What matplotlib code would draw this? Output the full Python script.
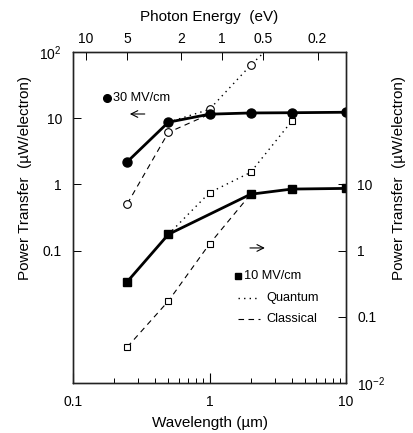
import matplotlib
matplotlib.use("Agg")
import matplotlib.pyplot as plt
from matplotlib.lines import Line2D
from matplotlib.ticker import FixedLocator, NullLocator, LogLocator, NullFormatter

plt.rcParams['font.family'] = ['Liberation Sans', 'DejaVu Sans']
plt.rcParams['mathtext.fontset'] = 'custom'
plt.rcParams['mathtext.rm'] = 'Liberation Sans'

# ---------------- data ----------------
# 30 MV/cm (left axis, uW/electron)
wl30 = [0.25, 0.5, 1, 2, 4, 10]
p30 = [2.2, 8.7, 11.5, 12.0, 12.1, 12.3]
wl30_q = [0.5, 1, 2, 4]
p30_q = [8.7, 13.6, 63, 250]
wl30_c = [0.25, 0.5, 1]
p30_c = [0.51, 6.1, 11.5]

# 10 MV/cm (right axis, uW/electron)
wl10 = [0.25, 0.5, 2, 4, 10]
p10 = [0.34, 1.76, 7.1, 8.5, 8.7]
wl10_q = [0.5, 1, 2, 4]
p10_q = [1.76, 7.5, 15.2, 90]
wl10_c = [0.25, 0.5, 1, 2]
p10_c = [0.035, 0.173, 1.26, 7.1]

energy_ticks = [10, 5, 2, 1, 0.5, 0.2]
energy_labels = ["10", "5", "2", "1", "0.5", "0.2"]
left_ticks = [100, 10, 1, 0.1]
left_labels = ["10$^2$", "10", "1", "0.1"]
right_ticks = [10, 1, 0.1, 0.01]
right_labels = ["10", "1", "0.1", "10$^{-2}$"]
x_ticks = [0.1, 1, 10]
x_labels = ["0.1", "1", "10"]

# ---------------- figure ----------------
fig = plt.figure(figsize=(4.13, 4.33), dpi=100)
ax = fig.add_axes([73/413, 50/433, 273/413, 331/433])
ax2 = ax.twinx()
ax3 = ax.twiny()

for a in (ax, ax2, ax3):
    for s in a.spines.values():
        s.set_linewidth(0.9)
        s.set_color('#222222')

ax.set_xscale('log')
ax.set_yscale('log')
ax.set_xlim(0.1, 10)
ax.set_ylim(1e-3, 1e2)
ax2.set_yscale('log')
ax2.set_ylim(1e-2, 1e3)

fs_tick = 10
fs_lab = 11

# bottom axis
ax.xaxis.set_major_locator(FixedLocator(x_ticks))
ax.set_xticklabels(x_labels)
ax.xaxis.set_minor_locator(LogLocator(base=10, subs=range(2, 10)))
ax.xaxis.set_minor_formatter(NullFormatter())
ax.tick_params(axis='x', which='major', direction='in', length=7, width=0.8,
               labelsize=fs_tick, pad=9)
ax.tick_params(axis='x', which='minor', direction='in', length=3.5, width=0.7)

# left axis
ax.yaxis.set_major_locator(FixedLocator(left_ticks))
ax.set_yticklabels(left_labels)
ax.yaxis.set_minor_locator(NullLocator())
ax.tick_params(axis='y', which='major', direction='in', length=6, width=0.7,
               labelsize=fs_tick, pad=8)

# right axis
ax2.yaxis.set_major_locator(FixedLocator(right_ticks))
ax2.set_yticklabels(right_labels)
ax2.yaxis.set_minor_locator(NullLocator())
ax2.tick_params(axis='y', which='major', direction='in', length=6, width=0.7,
                labelsize=fs_tick, pad=8)

# top axis (photon energy)
ax3.set_xscale('log')
ax3.set_xlim(0.1, 10)
ax3.xaxis.set_major_locator(FixedLocator([1.24 / e for e in energy_ticks]))
ax3.set_xticklabels(energy_labels)
ax3.xaxis.set_minor_locator(NullLocator())
ax3.tick_params(axis='x', which='major', direction='in', length=6, width=0.7,
                labelsize=fs_tick, pad=4)

ax.set_xlabel("Wavelength (\u00b5m)", fontsize=fs_lab, labelpad=5)
ax3.set_xlabel("Photon Energy  (eV)", fontsize=fs_lab, labelpad=8)
ax.set_ylabel("Power Transfer  (\u00b5W/electron)", fontsize=fs_lab)
ax.yaxis.set_label_coords(-0.15, 0.62)
ax2.set_ylabel("Power Transfer  (\u00b5W/electron)", fontsize=fs_lab, rotation=90)
ax2.yaxis.set_label_coords(1.17, 0.62)

# ---------------- curves ----------------
k = 'black'
# 30 MV/cm
ax.plot(wl30_q, p30_q, linestyle=(0, (1, 3)), color=k, lw=1.0)
ax.plot(wl30_q[1:], p30_q[1:], linestyle='none', marker='o', ms=5.5,
        mfc='white', mec=k, mew=0.8)
ax.plot(wl30_c, p30_c, linestyle=(0, (5, 4)), color=k, lw=0.8)
ax.plot(wl30_c[:-1], p30_c[:-1], linestyle='none', marker='o', ms=5.5,
        mfc='white', mec=k, mew=0.8)
ax.plot(wl30, p30, color=k, lw=2.0, marker='o', ms=6.5, mfc=k, mec=k, zorder=5)

# 10 MV/cm
ax2.plot(wl10_q, p10_q, linestyle=(0, (1, 3)), color=k, lw=1.0)
ax2.plot(wl10_q[1:], p10_q[1:], linestyle='none', marker='s', ms=5,
         mfc='white', mec=k, mew=0.8)
ax2.plot(wl10_c, p10_c, linestyle=(0, (5, 4)), color=k, lw=0.8)
ax2.plot(wl10_c[:-1], p10_c[:-1], linestyle='none', marker='s', ms=5,
         mfc='white', mec=k, mew=0.8)
ax2.plot(wl10, p10, color=k, lw=2.0, marker='s', ms=6, mfc=k, mec=k, zorder=5)

# ---------------- annotations ----------------
T = ax.transAxes
fs_ann = 9.2
ax.add_line(Line2D([0.123], [0.862], transform=T, marker='o', ms=5.5,
                   color=k, linestyle='none'))
ax.text(0.145, 0.862, "30 MV/cm", transform=T, fontsize=fs_ann, va='center')
ax.annotate("", xy=(0.198, 0.8127), xytext=(0.273, 0.8127),
            xycoords=T, textcoords=T,
            arrowprops=dict(arrowstyle='->', lw=0.8, color=k,
                            mutation_scale=12))
ax.annotate("", xy=(0.713, 0.408), xytext=(0.638, 0.408),
            xycoords=T, textcoords=T,
            arrowprops=dict(arrowstyle='->', lw=0.8, color=k,
                            mutation_scale=12))

ax.add_line(Line2D([0.606], [0.3233], transform=T, marker='s', ms=4.5,
                   color=k, linestyle='none'))
ax.text(0.628, 0.3233, "10 MV/cm", transform=T, fontsize=fs_ann, va='center')
ax.add_line(Line2D([0.6044, 0.685], [0.2577, 0.2577], transform=T,
                   linestyle=(0, (1, 3)), color=k, lw=1.0))
ax.text(0.708, 0.2577, "Quantum", transform=T, fontsize=fs_ann, va='center')
ax.add_line(Line2D([0.6044, 0.685], [0.1934, 0.1934], transform=T,
                   linestyle=(0, (5, 4)), color=k, lw=0.8))
ax.text(0.708, 0.1934, "Classical", transform=T, fontsize=fs_ann, va='center')

fig.savefig("out.png", dpi=100)
